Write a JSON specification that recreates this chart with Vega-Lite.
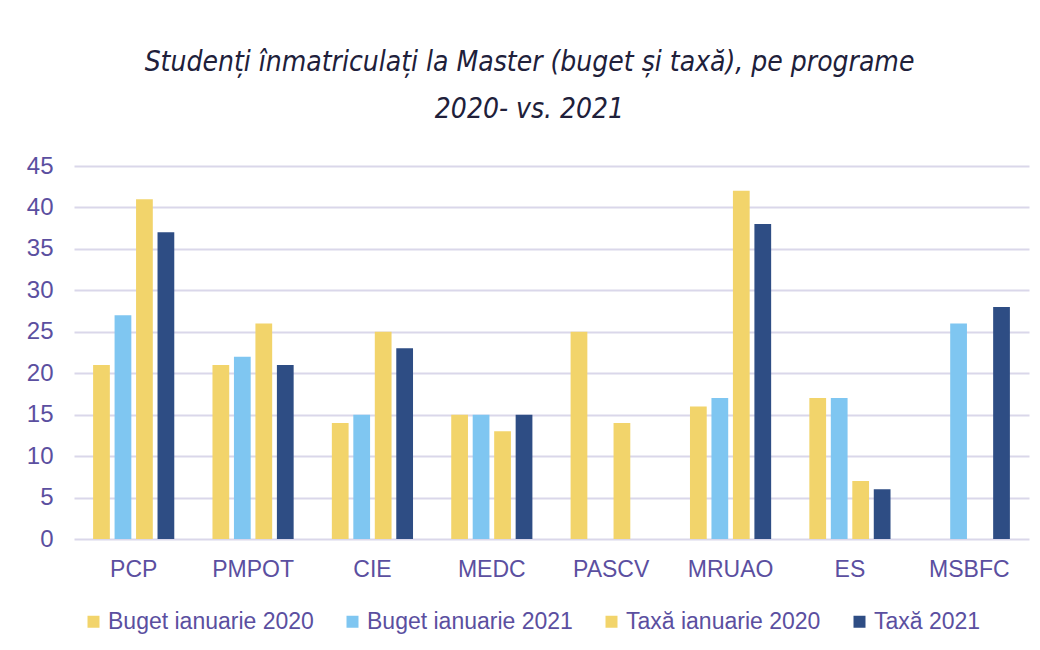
{
  "$schema": "https://vega.github.io/schema/vega-lite/v6.json",
  "autosize": "none",
  "width": 955,
  "height": 373,
  "padding": {"left": 74, "top": 166, "right": 11, "bottom": 111},
  "background": "white",
  "title": {
    "text": ["Studenți înmatriculați la Master (buget și taxă), pe programe", "2020- vs. 2021"],
    "font": "DejaVu Sans Condensed",
    "fontStyle": "italic",
    "fontWeight": "normal",
    "fontSize": 28,
    "lineHeight": 47,
    "color": "#20203A",
    "anchor": "middle",
    "dx": -22,
    "offset": 30
  },
  "data": {
    "values": [
      {"program": "PCP", "serie": "Buget ianuarie 2020", "valoare": 21},
      {"program": "PCP", "serie": "Buget ianuarie 2021", "valoare": 27},
      {"program": "PCP", "serie": "Taxă ianuarie 2020", "valoare": 41},
      {"program": "PCP", "serie": "Taxă 2021", "valoare": 37},
      {"program": "PMPOT", "serie": "Buget ianuarie 2020", "valoare": 21},
      {"program": "PMPOT", "serie": "Buget ianuarie 2021", "valoare": 22},
      {"program": "PMPOT", "serie": "Taxă ianuarie 2020", "valoare": 26},
      {"program": "PMPOT", "serie": "Taxă 2021", "valoare": 21},
      {"program": "CIE", "serie": "Buget ianuarie 2020", "valoare": 14},
      {"program": "CIE", "serie": "Buget ianuarie 2021", "valoare": 15},
      {"program": "CIE", "serie": "Taxă ianuarie 2020", "valoare": 25},
      {"program": "CIE", "serie": "Taxă 2021", "valoare": 23},
      {"program": "MEDC", "serie": "Buget ianuarie 2020", "valoare": 15},
      {"program": "MEDC", "serie": "Buget ianuarie 2021", "valoare": 15},
      {"program": "MEDC", "serie": "Taxă ianuarie 2020", "valoare": 13},
      {"program": "MEDC", "serie": "Taxă 2021", "valoare": 15},
      {"program": "PASCV", "serie": "Buget ianuarie 2020", "valoare": 25},
      {"program": "PASCV", "serie": "Taxă ianuarie 2020", "valoare": 14},
      {"program": "MRUAO", "serie": "Buget ianuarie 2020", "valoare": 16},
      {"program": "MRUAO", "serie": "Buget ianuarie 2021", "valoare": 17},
      {"program": "MRUAO", "serie": "Taxă ianuarie 2020", "valoare": 42},
      {"program": "MRUAO", "serie": "Taxă 2021", "valoare": 38},
      {"program": "ES", "serie": "Buget ianuarie 2020", "valoare": 17},
      {"program": "ES", "serie": "Buget ianuarie 2021", "valoare": 17},
      {"program": "ES", "serie": "Taxă ianuarie 2020", "valoare": 7},
      {"program": "ES", "serie": "Taxă 2021", "valoare": 6},
      {"program": "MSBFC", "serie": "Buget ianuarie 2021", "valoare": 26},
      {"program": "MSBFC", "serie": "Taxă 2021", "valoare": 28}
    ]
  },
  "mark": {"type": "bar"},
  "encoding": {
    "x": {
      "field": "program",
      "type": "nominal",
      "sort": ["PCP", "PMPOT", "CIE", "MEDC", "PASCV", "MRUAO", "ES", "MSBFC"],
      "scale": {"paddingInner": 0.32, "paddingOuter": 0.16},
      "axis": {
        "title": null,
        "labelAngle": 0,
        "labelFont": "Liberation Sans",
        "labelFontSize": 23,
        "labelColor": "#5B4FA0",
        "labelPadding": 19,
        "ticks": false,
        "domain": false
      }
    },
    "xOffset": {
      "field": "serie",
      "type": "nominal",
      "sort": ["Buget ianuarie 2020", "Buget ianuarie 2021", "Taxă ianuarie 2020", "Taxă 2021"],
      "scale": {"paddingInner": 0.22, "paddingOuter": 0}
    },
    "y": {
      "field": "valoare",
      "type": "quantitative",
      "scale": {"domain": [0, 45]},
      "axis": {
        "title": null,
        "values": [0, 5, 10, 15, 20, 25, 30, 35, 40, 45],
        "labelFont": "Liberation Sans",
        "labelFontSize": 24,
        "labelColor": "#5B4FA0",
        "labelPadding": 21,
        "ticks": false,
        "domain": false,
        "grid": true,
        "gridColor": "#DAD7EA",
        "gridWidth": 2
      }
    },
    "color": {
      "field": "serie",
      "type": "nominal",
      "sort": ["Buget ianuarie 2020", "Buget ianuarie 2021", "Taxă ianuarie 2020", "Taxă 2021"],
      "scale": {
        "domain": ["Buget ianuarie 2020", "Buget ianuarie 2021", "Taxă ianuarie 2020", "Taxă 2021"],
        "range": ["#F2D46B", "#7FC6F1", "#F2D46B", "#2E4D84"]
      },
      "legend": {
        "title": null,
        "orient": "none",
        "legendX": 8,
        "legendY": 444,
        "direction": "horizontal",
        "columns": 4,
        "symbolType": "square",
        "symbolSize": 144,
        "symbolStrokeWidth": 0,
        "labelFont": "Liberation Sans",
        "labelFontSize": 23,
        "labelColor": "#5B4FA0",
        "labelOffset": 3,
        "labelLimit": 400,
        "columnPadding": 27
      }
    }
  },
  "config": {
    "view": {"stroke": null}
  }
}
